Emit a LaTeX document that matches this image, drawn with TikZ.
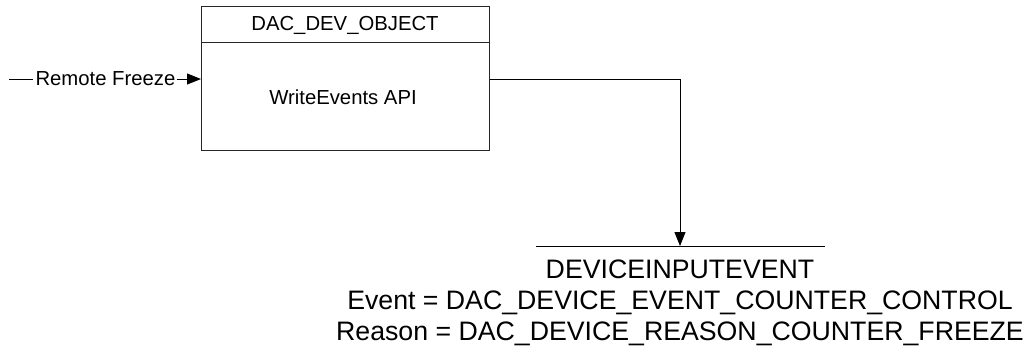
\documentclass[tikz,border=0pt]{standalone}
\usepackage{fontspec}
\setmainfont{Liberation Sans}
\usetikzlibrary{arrows.meta}
\begin{document}
\begin{tikzpicture}[x=1bp,y=-1bp,
  conn/.style={line width=1bp, draw=black},
  tipped/.style={-{Triangle[length=14bp,width=11bp]}},
  boxline/.style={line width=1.2bp, draw=black!85},
  small/.style={font=\fontsize{20.3bp}{24bp}\selectfont, inner sep=0},
  big/.style={font=\fontsize{26.7bp}{31bp}\selectfont, inner sep=0}]
\useasboundingbox (0,0) rectangle (1027,352);
% process box
\node[boxline, draw, minimum width=288bp, minimum height=144bp, inner sep=0, anchor=north west] (obj) at (201,6) {};
\draw[boxline] ([yshift=-36.5bp]obj.north west) -- ([yshift=-36.5bp]obj.north east);
\node[small, anchor=base] (title) at (345,30) {DAC\_DEV\_OBJECT};
\node[small, anchor=base] (api) at (343,104) {WriteEvents API};
% incoming flow
\coordinate (in) at (9,79);
\node[small, anchor=base] (rf) at (105.5,85) {Remote Freeze};
\draw[conn] (in) -- ([xshift=-2bp]rf.west |- in);
\draw[conn, tipped] ([xshift=1bp]rf.east |- in) -- (obj.west |- in);
% data store
\coordinate (dsl) at (536,246);
\coordinate (dsr) at (825,246);
\coordinate (dsm) at (680,246);
\draw[conn] (dsl) -- (dsr);
\draw[conn, tipped] (obj.east |- in) -| (dsm);
\node[big, anchor=base] (dsname) at (680,278) {DEVICEINPUTEVENT};
\node[big, anchor=base] (ev) at (680,309) {Event = DAC\_DEVICE\_EVENT\_COUNTER\_CONTROL};
\node[big, anchor=base] (rs) at (680,340) {Reason = DAC\_DEVICE\_REASON\_COUNTER\_FREEZE};
\end{tikzpicture}
\end{document}
